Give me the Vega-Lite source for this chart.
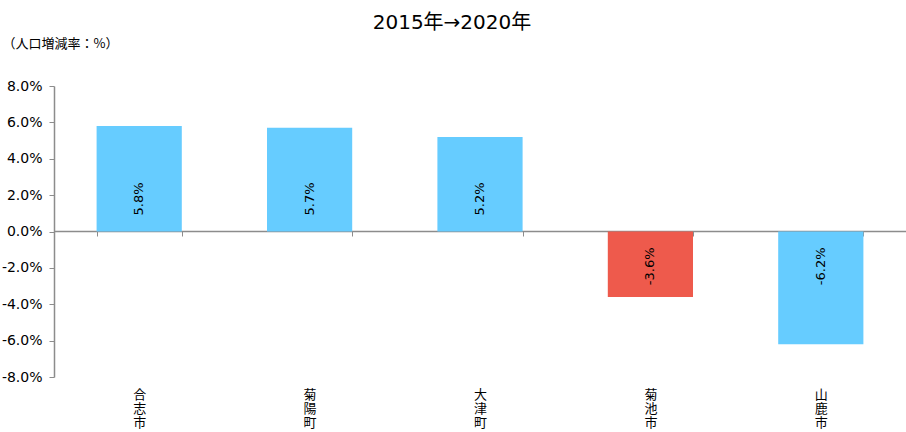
{
  "$schema": "https://vega.github.io/schema/vega-lite/v6.json",
  "width": 852,
  "height": 291,
  "autosize": "none",
  "padding": {"left": 54, "top": 86, "right": 0, "bottom": 55},
  "background": "white",
  "title": {
    "text": "2015年→2020年",
    "fontSize": 20,
    "fontWeight": "normal",
    "font": "DejaVu Sans, Noto Sans CJK JP",
    "color": "#000000",
    "anchor": "middle",
    "dx": -28,
    "baseline": "alphabetic",
    "offset": -12
  },
  "data": {
    "values": [
      {"city": "合志市", "rate": 0.058},
      {"city": "菊陽町", "rate": 0.057},
      {"city": "大津町", "rate": 0.052},
      {"city": "菊池市", "rate": -0.036},
      {"city": "山鹿市", "rate": -0.062}
    ]
  },
  "encoding": {
    "x": {
      "field": "city",
      "type": "nominal",
      "sort": null,
      "scale": {"paddingInner": 0.5, "paddingOuter": 0.25},
      "axis": {
        "title": null,
        "offset": -146,
        "domainColor": "#8c8c8c",
        "domainWidth": 1.5,
        "tickColor": "#8c8c8c",
        "tickSize": 5,
        "tickBand": "extent",
        "labelAngle": 0,
        "labelOverlap": false,
        "labelExpr": "split(datum.label, '')",
        "labelBaseline": "top",
        "labelLineHeight": 14,
        "labelPadding": 152,
        "labelFontSize": 13,
        "labelFont": "Noto Sans CJK JP",
        "labelColor": "#000000"
      }
    },
    "y": {
      "field": "rate",
      "type": "quantitative",
      "scale": {"domain": [-0.08, 0.08], "nice": false, "zero": false},
      "axis": {
        "values": [-0.08, -0.06, -0.04, -0.02, 0, 0.02, 0.04, 0.06, 0.08],
        "format": ".1%",
        "labelOverlap": false,
        "grid": false,
        "domainColor": "#8c8c8c",
        "domainWidth": 1.5,
        "tickColor": "#8c8c8c",
        "tickSize": 5,
        "labelPadding": 7,
        "labelFontSize": 14,
        "labelFont": "DejaVu Sans",
        "labelColor": "#000000",
        "title": "（人口増減率：%）",
        "titleFont": "Noto Sans CJK JP",
        "titleFontSize": 13,
        "titleFontWeight": "normal",
        "titleColor": "#000000",
        "titleAngle": 0,
        "titleAlign": "left",
        "titleBaseline": "middle",
        "titleX": -52,
        "titleY": -43
      }
    }
  },
  "layer": [
    {
      "mark": {"type": "bar"},
      "encoding": {
        "color": {
          "condition": {"test": "datum.city === '菊池市'", "value": "#EE5A4C"},
          "value": "#66CCFF"
        }
      }
    },
    {
      "transform": [{"filter": "datum.rate >= 0"}],
      "mark": {"type": "text", "angle": 270, "align": "left", "baseline": "middle", "dx": 16, "fontSize": 13, "font": "DejaVu Sans", "color": "#000000"},
      "encoding": {
        "y": {"datum": 0, "type": "quantitative"},
        "text": {"field": "rate", "type": "quantitative", "format": ".1%"}
      }
    },
    {
      "transform": [{"filter": "datum.rate < 0"}],
      "mark": {"type": "text", "angle": 270, "align": "right", "baseline": "middle", "dx": -16, "fontSize": 13, "font": "DejaVu Sans", "color": "#000000"},
      "encoding": {
        "y": {"datum": 0, "type": "quantitative"},
        "text": {"field": "rate", "type": "quantitative", "format": ".1%"}
      }
    }
  ],
  "config": {
    "view": {"stroke": null},
    "locale": {"number": {"decimal": ".", "thousands": ",", "grouping": [3], "currency": ["", ""], "minus": "-"}}
  }
}
